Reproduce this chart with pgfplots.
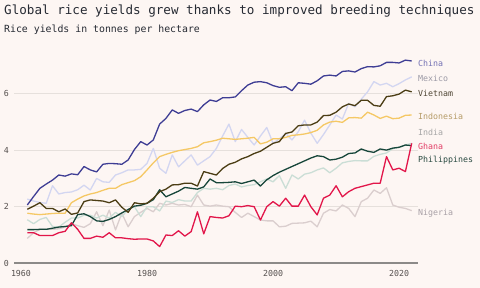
\documentclass[border=0pt]{standalone}
\usepackage{fontspec}
\setmainfont{DejaVu Sans Mono}
\usepackage{pgfplots}
\usepackage{pgfplotstable}
\pgfplotsset{compat=1.18}
\definecolor{bg}{HTML}{FDF6F3}
\definecolor{titlec}{HTML}{262A33}
\definecolor{tickc}{HTML}{55504E}
\definecolor{gridc}{HTML}{E6E0DC}
\definecolor{axisc}{HTML}{8C8A88}
\definecolor{cChina}{HTML}{3E3D94}
\definecolor{cMexico}{HTML}{D3D6F1}
\definecolor{cVietnam}{HTML}{4B3D14}
\definecolor{cIndonesia}{HTML}{F5C865}
\definecolor{cIndia}{HTML}{CBDED6}
\definecolor{cGhana}{HTML}{E2164A}
\definecolor{cPhil}{HTML}{17463A}
\definecolor{cNigeria}{HTML}{DACECE}
\definecolor{lChina}{HTML}{7472B4}
\definecolor{lMexico}{HTML}{9C9AA6}
\definecolor{lVietnam}{HTML}{4F4634}
\definecolor{lIndonesia}{HTML}{B69C68}
\definecolor{lIndia}{HTML}{A6A6A6}
\definecolor{lGhana}{HTML}{E23E66}
\definecolor{lPhil}{HTML}{2A4B42}
\definecolor{lNigeria}{HTML}{A8A0A6}
\pgfplotstableread{
year china mexico vietnam indonesia india ghana philippines nigeria
1961 2.06 2.27 1.91 1.77 1.54 1.08 1.19 0.88
1962 2.36 2.20 2.02 1.74 1.40 1.08 1.19 1.08
1963 2.65 2.15 2.14 1.72 1.55 0.98 1.20 1.20
1964 2.80 2.12 1.94 1.74 1.62 0.98 1.20 1.20
1965 2.94 2.74 1.94 1.76 1.30 0.98 1.24 1.20
1966 3.12 2.45 1.82 1.77 1.28 1.08 1.28 1.22
1967 3.08 2.50 1.92 1.77 1.45 1.13 1.30 1.28
1968 3.16 2.52 1.73 2.14 1.60 1.43 1.33 1.40
1969 3.13 2.60 1.78 2.27 1.60 1.20 1.72 1.33
1970 3.42 2.76 2.18 2.38 1.70 0.88 1.75 1.27
1971 3.30 2.59 2.24 2.45 1.70 0.88 1.65 1.40
1972 3.23 3.00 2.22 2.50 1.60 0.96 1.50 1.82
1973 3.50 2.88 2.20 2.58 1.70 0.92 1.48 1.33
1974 3.53 2.86 2.14 2.65 1.60 1.08 1.55 1.88
1975 3.52 3.12 2.24 2.65 1.80 0.90 1.65 1.18
1976 3.50 3.20 1.98 2.78 1.65 0.90 1.78 1.77
1977 3.65 3.30 1.80 2.85 1.90 0.87 1.90 1.29
1978 4.02 3.30 2.14 2.92 2.00 0.85 2.02 1.65
1979 4.30 3.32 2.10 3.06 1.65 0.86 2.05 1.80
1980 4.18 3.53 2.12 3.30 2.00 0.86 2.12 1.94
1981 4.36 4.06 2.30 3.55 2.00 0.79 2.25 1.82
1982 4.92 3.36 2.53 3.77 1.85 0.59 2.60 2.12
1983 5.12 3.18 2.62 3.85 2.20 1.00 2.35 2.06
1984 5.42 3.83 2.77 3.92 2.15 0.98 2.45 2.12
1985 5.30 3.41 2.78 3.98 2.25 1.15 2.55 2.06
1986 5.40 3.62 2.83 4.02 2.20 0.96 2.68 2.08
1987 5.45 3.83 2.83 4.06 2.20 1.12 2.65 2.00
1988 5.36 3.47 2.73 4.12 2.50 1.82 2.62 2.41
1989 5.60 3.62 3.24 4.26 2.65 1.04 2.70 2.06
1990 5.77 3.77 3.18 4.30 2.62 1.65 2.98 2.02
1991 5.72 4.06 3.12 4.35 2.65 1.62 2.85 2.06
1992 5.85 4.50 3.35 4.42 2.60 1.60 2.85 2.02
1993 5.85 4.92 3.50 4.40 2.75 1.68 2.86 2.00
1994 5.88 4.30 3.57 4.38 2.80 2.02 2.88 1.80
1995 6.10 4.73 3.69 4.40 2.70 2.00 2.82 1.62
1996 6.30 4.45 3.77 4.42 2.75 2.04 2.88 1.77
1997 6.40 4.18 3.88 4.45 2.78 2.00 2.94 1.65
1998 6.42 4.50 3.96 4.22 2.88 1.53 2.73 1.53
1999 6.38 4.80 4.10 4.28 2.98 2.00 2.95 1.50
2000 6.28 4.24 4.24 4.40 2.88 2.18 3.10 1.50
2001 6.22 4.40 4.30 4.40 3.10 2.02 3.22 1.29
2002 6.24 4.59 4.59 4.45 2.65 2.30 3.32 1.31
2003 6.10 4.36 4.64 4.52 3.12 2.02 3.42 1.41
2004 6.38 4.65 4.86 4.54 2.98 2.02 3.52 1.42
2005 6.36 5.06 4.89 4.57 3.15 2.41 3.62 1.43
2006 6.33 4.60 4.89 4.62 3.20 2.00 3.72 1.49
2007 6.45 4.24 4.99 4.70 3.30 1.71 3.80 1.29
2008 6.62 4.55 5.22 4.89 3.37 2.30 3.77 1.77
2009 6.65 4.89 5.23 4.99 3.20 2.41 3.65 1.90
2010 6.62 5.24 5.34 5.02 3.36 2.74 3.68 1.85
2011 6.78 5.10 5.53 4.98 3.55 2.35 3.75 2.06
2012 6.80 5.65 5.63 5.14 3.60 2.53 3.88 1.94
2013 6.76 5.53 5.57 5.15 3.63 2.65 3.90 1.65
2014 6.88 5.80 5.76 5.13 3.62 2.71 4.04 2.18
2015 6.95 6.06 5.76 5.34 3.62 2.77 3.96 2.30
2016 6.94 6.42 5.58 5.24 3.78 2.83 3.92 2.59
2017 6.98 6.30 5.55 5.12 3.85 2.83 4.04 2.47
2018 7.10 6.36 5.89 5.20 3.90 3.77 4.00 2.67
2019 7.10 6.24 5.92 5.11 4.05 3.30 4.07 2.06
2020 7.08 6.35 5.98 5.13 4.10 3.36 4.10 1.98
2021 7.18 6.48 6.12 5.23 4.18 3.24 4.18 1.94
2022 7.15 6.59 6.06 5.24 4.24 4.24 4.16 1.86
}\ricedata
\begin{document}
\begin{tikzpicture}[x=1pt,y=1pt]
\fill[bg] (0,0) rectangle (480,288);
\node[anchor=base west, inner sep=0, text=titlec, font=\fontsize{12.6}{14}\selectfont] at (4,273.5) {Global rice yields grew thanks to improved breeding techniques};
\node[anchor=base west, inner sep=0, text=titlec, font=\fontsize{9.85}{11}\selectfont] at (4,255.5) {Rice yields in tonnes per hectare};
\begin{axis}[
  at={(14pt,24.7pt)}, anchor=south west,
  scale only axis, width=404pt, height=209.4pt,
  xmin=1958.89, xmax=2023, ymin=0, ymax=7.4,
  axis line style={draw=none}, tick style={draw=none},
  major tick length=0pt,
  ytick={2,4,6}, ymajorgrids,
  grid style={gridc, line width=0.9pt},
  extra y ticks={0},
  extra y tick style={grid style={axisc, line width=1.8pt}},
  xtick={1960,1980,2000,2020},
  /pgf/number format/assume math mode=true,
  xticklabel style={/pgf/number format/1000 sep={}, text=tickc, font=\fontsize{8.3}{9}\selectfont, yshift=-3.5pt},
  yticklabel style={text=tickc, font=\fontsize{8.3}{9}\selectfont, xshift=-1.5pt},
  clip=false,
  every axis plot/.append style={line width=1.3pt, line join=round, no markers},
]
\addplot[cNigeria] table[x=year,y=nigeria] {\ricedata};
\addplot[cIndia] table[x=year,y=india] {\ricedata};
\addplot[cMexico] table[x=year,y=mexico] {\ricedata};
\addplot[cIndonesia] table[x=year,y=indonesia] {\ricedata};
\addplot[cPhil] table[x=year,y=philippines] {\ricedata};
\addplot[cVietnam] table[x=year,y=vietnam] {\ricedata};
\addplot[cChina] table[x=year,y=china] {\ricedata};
\addplot[cGhana] table[x=year,y=ghana] {\ricedata};
\begin{scope}[every node/.style={anchor=west, inner sep=0pt, font=\fontsize{8.3}{9}\selectfont}]
\node[text=lChina] at (axis cs:2023,7.07) {China};
\node[text=lMexico] at (axis cs:2023,6.54) {Mexico};
\node[text=lVietnam] at (axis cs:2023,6.01) {Vietnam};
\node[text=lIndonesia] at (axis cs:2023,5.20) {Indonesia};
\node[text=lIndia] at (axis cs:2023,4.63) {India};
\node[text=lGhana] at (axis cs:2023,4.13) {Ghana};
\node[text=lPhil] at (axis cs:2023,3.65) {Philippines};
\node[text=lNigeria] at (axis cs:2023,1.77) {Nigeria};
\end{scope}
\end{axis}
\end{tikzpicture}
\end{document}
